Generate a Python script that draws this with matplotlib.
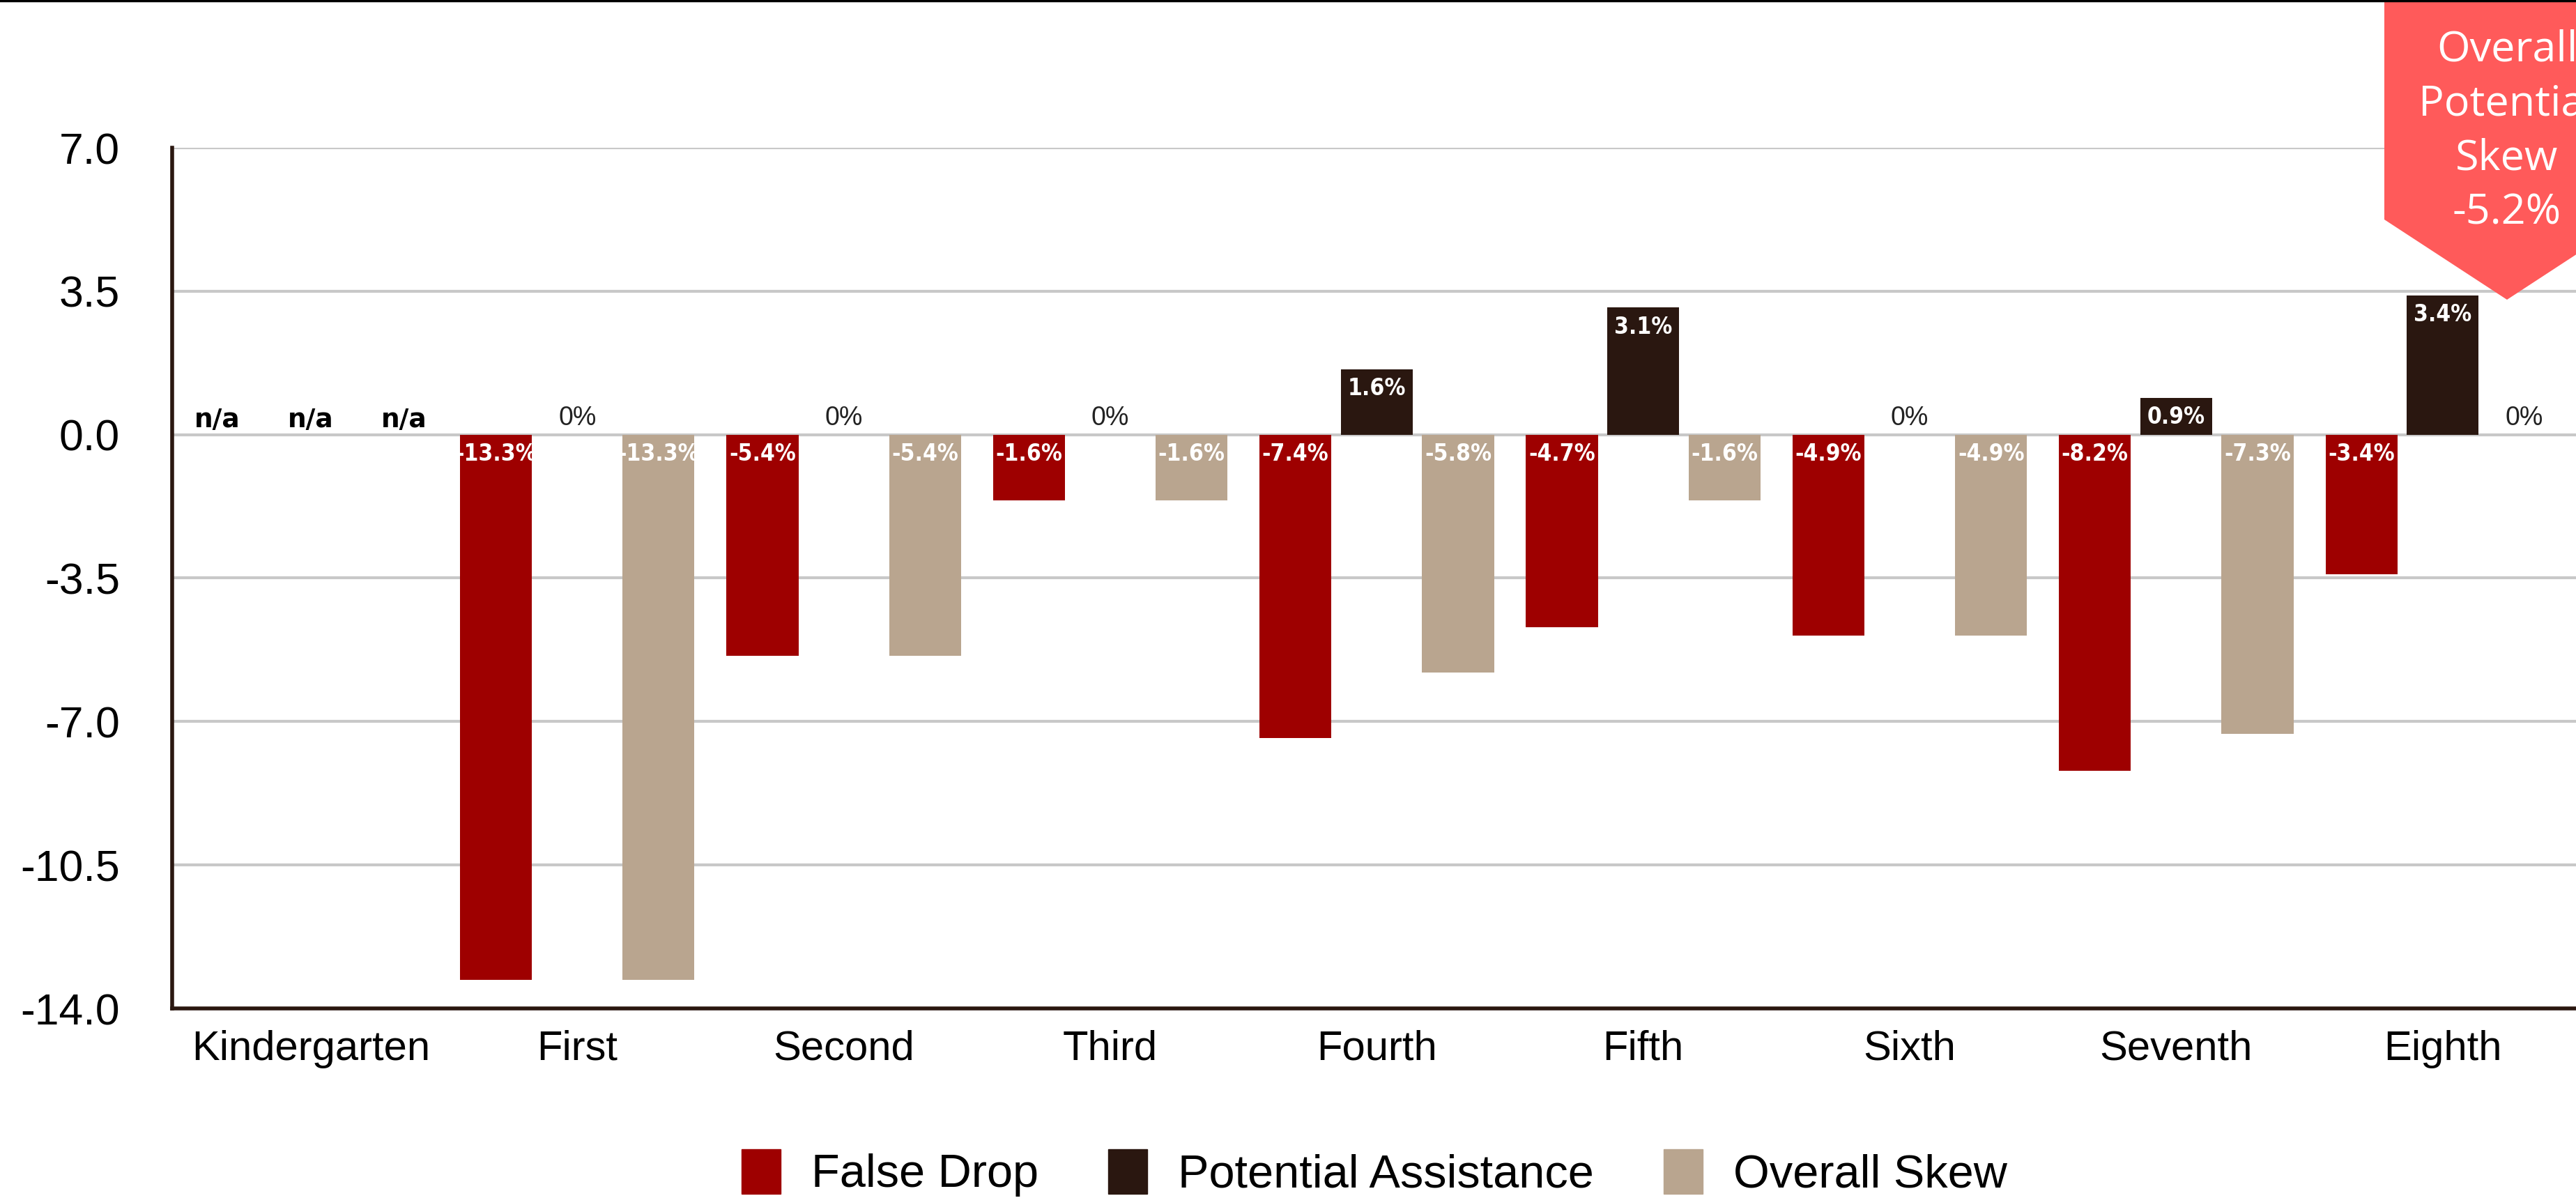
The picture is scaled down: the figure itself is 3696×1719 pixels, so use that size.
import numpy as np
import matplotlib
matplotlib.use("Agg")
import matplotlib.pyplot as plt
from matplotlib import font_manager
from matplotlib.patches import Polygon, Patch
from matplotlib.lines import Line2D

grades = ["Kindergarten", "First", "Second", "Third", "Fourth",
          "Fifth", "Sixth", "Seventh", "Eighth"]
series_names = ["False Drop", "Potential Assistance", "Overall Skew"]

# nan = no data (n/a) for that grade
false_drop = [np.nan, -13.3, -5.4, -1.6, -7.4, -4.7, -4.9, -8.2, -3.4]
potential_assist = [np.nan, 0, 0, 0, 1.6, 3.1, 0, 0.9, 3.4]
overall_skew = [np.nan, -13.3, -5.4, -1.6, -5.8, -1.6, -4.9, -7.3, 0]

y_ticks = [7.0, 3.5, 0.0, -3.5, -7.0, -10.5, -14.0]
badge_lines = ["Overall", "Potential", "Skew", "-5.2%"]

colors = ["#9e0000", "#2a1710", "#b9a58f"]
dark = "#2a1710"


def narrow_bold():
    # look for a bold condensed face for the value labels
    fonts = font_manager.fontManager.ttflist
    for key in ("LiberationSansNarrow-Bold", "DejaVuSansCondensed-Bold",
                "RobotoCondensed-Bold", "OpenSans_Condensed-Bold"):
        for f in fonts:
            if key.lower() in f.fname.lower().replace(" ", ""):
                return font_manager.FontProperties(fname=f.fname, size=24)
    return font_manager.FontProperties(family="Liberation Sans", weight="bold",
                                       size=21)


label_font = narrow_bold()

W, H = 3696, 1719
fig = plt.figure(figsize=(W / 100, H / 100), dpi=100)
ax = fig.add_axes([247 / W, (H - 1447) / H, 1 - 247 / W, (1447 - 212) / H])

x = np.arange(len(grades))
width = 0.27
offsets = [-0.305, 0, 0.305]
all_series = [false_drop, potential_assist, overall_skew]

for vals, off, col, name in zip(all_series, offsets, colors, series_names):
    vals = np.array(vals, dtype=float)
    ax.bar(x + off, vals, width, color=col, zorder=3, label=name)
    for xi, v in zip(x + off, vals):
        if np.isnan(v):
            continue
        if v == 0:
            ax.annotate("0%", (xi, 0), xytext=(0, 4), textcoords="offset points",
                        ha="center", va="bottom", fontsize=27, color="#222222",
                        family="Liberation Sans", zorder=4)
        else:
            ax.annotate(f"{v:.1f}%", (xi, max(v, 0)), xytext=(0, -20),
                        textcoords="offset points", ha="center", va="center",
                        color="white", fontproperties=label_font, zorder=4)

# grades without data
for i, v in enumerate(false_drop):
    if np.isnan(v):
        for off in (-0.35, 0, 0.35):
            ax.annotate("n/a", (i + off, 0), xytext=(0, 2), textcoords="offset points",
                        ha="center", va="bottom", fontsize=27, fontweight="bold",
                        color="black", family="DejaVu Sans", zorder=4)

ax.set_xlim(-0.52, 8.5)
ax.set_ylim(-14, 7)
ax.set_yticks(y_ticks)
ax.set_yticklabels([f"{t:.1f}" for t in y_ticks], fontsize=45,
                   family="Liberation Sans")
ax.set_xticks(x)
ax.set_xticklabels(grades, fontsize=43, family="Liberation Sans")
ax.tick_params(axis="y", length=0, pad=54)
ax.tick_params(axis="x", length=0, pad=22)
ax.yaxis.grid(True, color="#c8c8c8", linewidth=3, zorder=0)
ax.set_axisbelow(True)
for s in ("top", "right"):
    ax.spines[s].set_visible(False)
for s in ("left", "bottom"):
    ax.spines[s].set_color(dark)
    ax.spines[s].set_linewidth(4)
    ax.spines[s].set_zorder(5)

handles = [Patch(color=c) for c in colors]
fig.legend(handles, series_names, loc="center", ncol=3, frameon=False,
           bbox_to_anchor=((247 + W) / 2 / W, 1 - 1683 / H),
           prop={"family": "Liberation Sans", "size": 48},
           handlelength=0.85, handleheight=1.1, handletextpad=0.65,
           columnspacing=1.5)

# callout badge in the top-right corner
pts = [(3421, 0), (3773, 0), (3773, 315), (3597, 430), (3421, 315)]
badge = Polygon([(px / W, 1 - py / H) for px, py in pts], closed=True,
                transform=fig.transFigure, facecolor="#ff5a5a",
                edgecolor="none", zorder=10)
fig.add_artist(badge)
for k, line in enumerate(badge_lines):
    fig.text(3597 / W, 1 - (88 + 78 * k) / H, line, ha="center", va="baseline",
             fontsize=44, color="white", family="Open Sans", zorder=11)

fig.add_artist(Line2D([0, 1], [1 - 1 / H, 1 - 1 / H], transform=fig.transFigure,
                      color="black", linewidth=2.5, zorder=12))

fig.savefig("out.png", dpi=100, facecolor="white")
